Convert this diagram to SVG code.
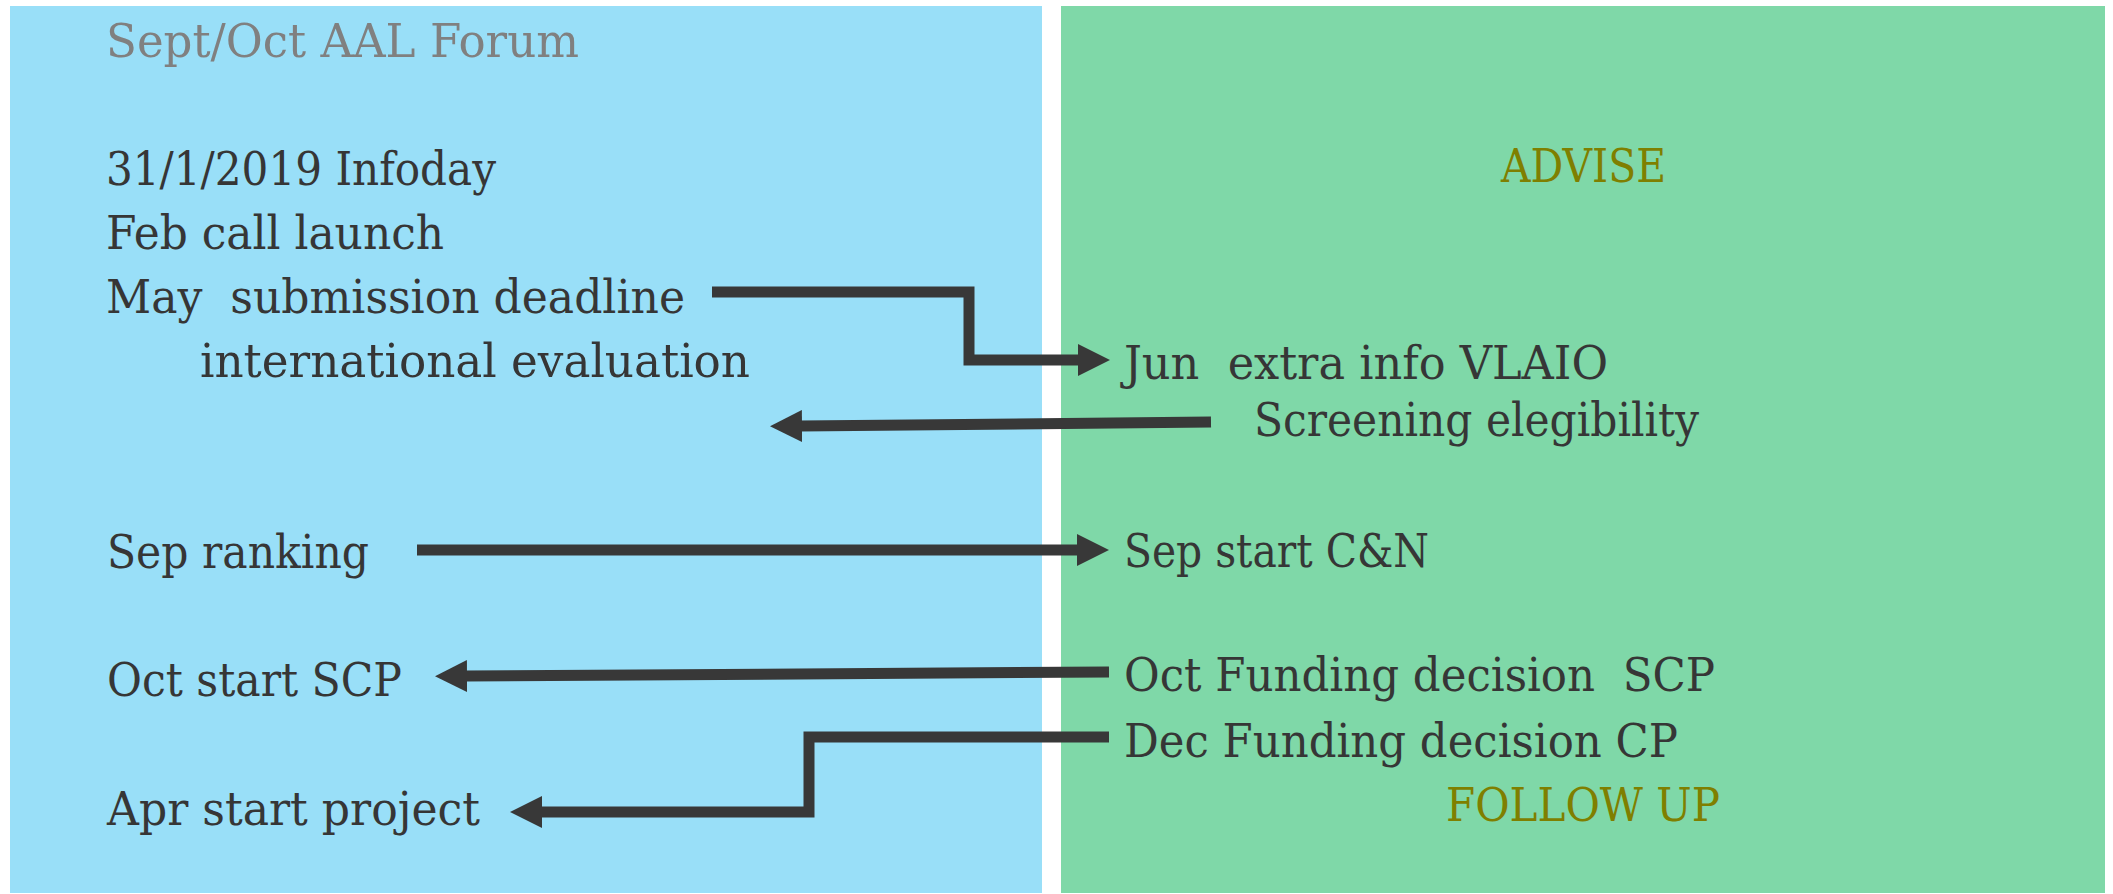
<svg xmlns="http://www.w3.org/2000/svg" width="2113" height="894" viewBox="0 0 2113 894">
<style>
.t{font-family:"DejaVu Serif","Liberation Serif",serif;font-stretch:condensed;font-size:46px;fill:#363636}
.g{fill:#808080}
.o{fill:#7f7f00}
.c{fill:none;stroke:#383838;stroke-width:11;stroke-linejoin:miter}
</style>
<defs>
<marker id="ah" viewBox="0 0 32 32" refX="2" refY="16" markerWidth="32" markerHeight="32" markerUnits="userSpaceOnUse" orient="auto">
<path d="M0,0 L32,16 L0,32 z" fill="#383838"/>
</marker>
</defs>
<rect width="2113" height="894" fill="#ffffff"/>
<g id="lane-left">
<rect x="10" y="6" width="1032" height="887" fill="#99dff8"/>
</g>
<g id="lane-right">
<rect x="1061" y="6" width="1044" height="887" fill="#7fd8a8"/>
</g>
<g id="n-forum"><text class="t g" x="106" y="57" textLength="473" lengthAdjust="spacingAndGlyphs">Sept/Oct AAL Forum</text></g>
<g id="n-infoday"><text class="t" x="106" y="185" textLength="390" lengthAdjust="spacingAndGlyphs">31/1/2019 Infoday</text></g>
<g id="n-feb"><text class="t" x="106" y="249" textLength="338" lengthAdjust="spacingAndGlyphs">Feb call launch</text></g>
<g id="n-may"><text class="t" x="106" y="313" textLength="579" lengthAdjust="spacingAndGlyphs" xml:space="preserve">May  submission deadline</text></g>
<g id="n-eval"><text class="t" x="200" y="377" textLength="550" lengthAdjust="spacingAndGlyphs">international evaluation</text></g>
<g id="n-sep-ranking"><text class="t" x="107" y="568" textLength="262" lengthAdjust="spacingAndGlyphs">Sep ranking</text></g>
<g id="n-oct-scp"><text class="t" x="107" y="696" textLength="295" lengthAdjust="spacingAndGlyphs">Oct start SCP</text></g>
<g id="n-apr"><text class="t" x="107" y="825" textLength="373" lengthAdjust="spacingAndGlyphs">Apr start project</text></g>
<g id="n-advise"><text class="t o" x="1501" y="182" textLength="165" lengthAdjust="spacingAndGlyphs">ADVISE</text></g>
<g id="n-jun"><text class="t" x="1124" y="379" textLength="484" lengthAdjust="spacingAndGlyphs" xml:space="preserve">Jun  extra info VLAIO</text></g>
<g id="n-screening"><text class="t" x="1254" y="436" textLength="445" lengthAdjust="spacingAndGlyphs">Screening elegibility</text></g>
<g id="n-sep-cn"><text class="t" x="1124" y="567" textLength="305" lengthAdjust="spacingAndGlyphs">Sep start C&amp;N</text></g>
<g id="n-oct-fd"><text class="t" x="1124" y="691" textLength="591" lengthAdjust="spacingAndGlyphs" xml:space="preserve">Oct Funding decision  SCP</text></g>
<g id="n-dec-fd"><text class="t" x="1124" y="757" textLength="554" lengthAdjust="spacingAndGlyphs">Dec Funding decision CP</text></g>
<g id="n-follow"><text class="t o" x="1446" y="821" textLength="274" lengthAdjust="spacingAndGlyphs">FOLLOW UP</text></g>
<g id="connectors">
<path class="c" d="M712,292 H969 V360 H1080" marker-end="url(#ah)"/>
<path class="c" d="M1211,422 L800,426" marker-end="url(#ah)"/>
<path class="c" d="M417,550 H1079" marker-end="url(#ah)"/>
<path class="c" d="M1109,672 L465,676" marker-end="url(#ah)"/>
<path class="c" d="M1109,737 H809 V812 H540" marker-end="url(#ah)"/>
</g>
</svg>
